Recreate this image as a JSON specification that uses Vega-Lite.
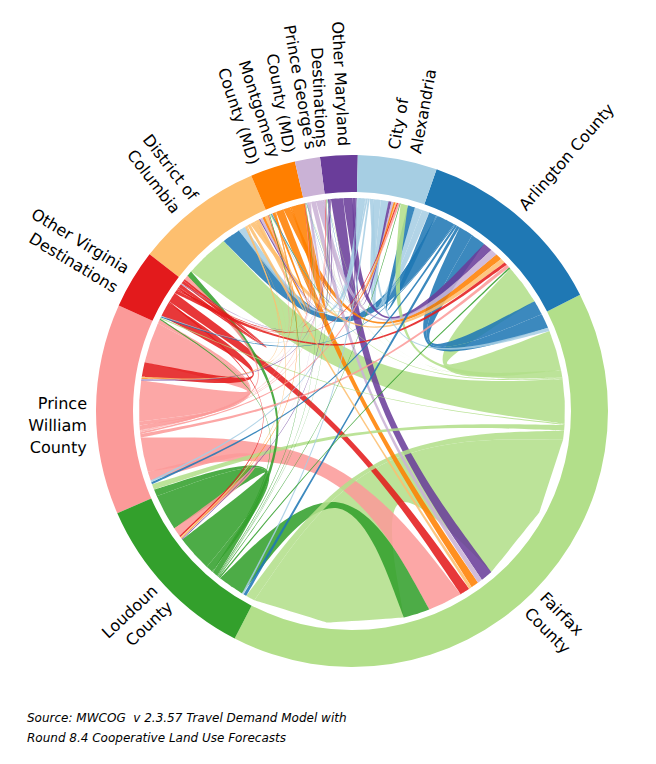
{
  "$schema": "https://vega.github.io/schema/vega-lite/v6.json",
  "width": 540,
  "height": 540,
  "autosize": {"type": "none"},
  "padding": {"left": 82, "top": 141, "right": 34, "bottom": 83},
  "background": "white",
  "config": {"view": {"stroke": null}},
  "title": {
    "text": ["Source: MWCOG\u00a0 v 2.3.57 Travel Demand Model with", "Round 8.4 Cooperative Land Use Forecasts"],
    "orient": "bottom",
    "anchor": "start",
    "frame": "group",
    "font": "DejaVu Sans",
    "fontSize": 12,
    "fontStyle": "italic",
    "fontWeight": "normal",
    "color": "black",
    "lineHeight": 20,
    "dx": -55,
    "offset": 32
  },
  "data": {
    "values": [
      {"o": "FX", "d": "FX", "v": 414},
      {"o": "FX", "d": "DC", "v": 120},
      {"o": "FX", "d": "AR", "v": 110},
      {"o": "PW", "d": "PW", "v": 111},
      {"o": "LO", "d": "LO", "v": 99},
      {"o": "PW", "d": "FX", "v": 94},
      {"o": "LO", "d": "FX", "v": 72},
      {"o": "AR", "d": "DC", "v": 50},
      {"o": "AR", "d": "AR", "v": 40},
      {"o": "AR", "d": "FX", "v": 40},
      {"o": "OV", "d": "PW", "v": 40},
      {"o": "OM", "d": "FX", "v": 33},
      {"o": "OV", "d": "FX", "v": 27},
      {"o": "FX", "d": "LO", "v": 25},
      {"o": "PW", "d": "LO", "v": 25},
      {"o": "OM", "d": "AR", "v": 25},
      {"o": "AX", "d": "AX", "v": 21},
      {"o": "MO", "d": "FX", "v": 21},
      {"o": "AX", "d": "AR", "v": 20},
      {"o": "AR", "d": "AX", "v": 20},
      {"o": "FX", "d": "AX", "v": 20},
      {"o": "AX", "d": "DC", "v": 19},
      {"o": "LO", "d": "PW", "v": 19},
      {"o": "MO", "d": "AR", "v": 18},
      {"o": "PG", "d": "AR", "v": 18},
      {"o": "MO", "d": "MO", "v": 18},
      {"o": "FX", "d": "PW", "v": 15},
      {"o": "LO", "d": "DC", "v": 15},
      {"o": "PG", "d": "FX", "v": 13},
      {"o": "DC", "d": "AR", "v": 13},
      {"o": "PW", "d": "DC", "v": 12},
      {"o": "PW", "d": "OV", "v": 11},
      {"o": "AX", "d": "FX", "v": 10},
      {"o": "DC", "d": "DC", "v": 10},
      {"o": "OV", "d": "OV", "v": 9},
      {"o": "PW", "d": "AR", "v": 9},
      {"o": "OV", "d": "AR", "v": 9},
      {"o": "AR", "d": "LO", "v": 8},
      {"o": "OM", "d": "AX", "v": 8},
      {"o": "DC", "d": "FX", "v": 8},
      {"o": "MO", "d": "DC", "v": 7},
      {"o": "PG", "d": "DC", "v": 7},
      {"o": "AR", "d": "PW", "v": 6},
      {"o": "PG", "d": "AX", "v": 6},
      {"o": "AX", "d": "LO", "v": 5},
      {"o": "AX", "d": "PW", "v": 5},
      {"o": "PW", "d": "AX", "v": 5},
      {"o": "OV", "d": "DC", "v": 5},
      {"o": "MO", "d": "AX", "v": 5},
      {"o": "LO", "d": "AR", "v": 4},
      {"o": "OV", "d": "LO", "v": 4},
      {"o": "DC", "d": "AX", "v": 4},
      {"o": "DC", "d": "PW", "v": 4},
      {"o": "AR", "d": "OV", "v": 3},
      {"o": "FX", "d": "OV", "v": 3},
      {"o": "FX", "d": "MO", "v": 3},
      {"o": "LO", "d": "OV", "v": 3},
      {"o": "OV", "d": "AX", "v": 3},
      {"o": "DC", "d": "LO", "v": 3},
      {"o": "OM", "d": "DC", "v": 3},
      {"o": "AX", "d": "OV", "v": 2},
      {"o": "AX", "d": "MO", "v": 2},
      {"o": "AR", "d": "MO", "v": 2},
      {"o": "LO", "d": "AX", "v": 2},
      {"o": "LO", "d": "MO", "v": 2},
      {"o": "PW", "d": "MO", "v": 2},
      {"o": "PW", "d": "PG", "v": 2},
      {"o": "PW", "d": "OM", "v": 2},
      {"o": "MO", "d": "LO", "v": 2},
      {"o": "MO", "d": "PW", "v": 2},
      {"o": "PG", "d": "PW", "v": 2},
      {"o": "OM", "d": "LO", "v": 2},
      {"o": "OM", "d": "PW", "v": 2},
      {"o": "OM", "d": "OM", "v": 2},
      {"o": "AX", "d": "PG", "v": 1},
      {"o": "AX", "d": "OM", "v": 1},
      {"o": "AR", "d": "PG", "v": 1},
      {"o": "AR", "d": "OM", "v": 1},
      {"o": "FX", "d": "PG", "v": 1},
      {"o": "FX", "d": "OM", "v": 1},
      {"o": "LO", "d": "PG", "v": 1},
      {"o": "LO", "d": "OM", "v": 1},
      {"o": "OV", "d": "MO", "v": 1},
      {"o": "OV", "d": "PG", "v": 1},
      {"o": "OV", "d": "OM", "v": 1},
      {"o": "DC", "d": "OV", "v": 1},
      {"o": "PG", "d": "LO", "v": 1},
      {"o": "PG", "d": "OV", "v": 1},
      {"o": "PG", "d": "PG", "v": 1},
      {"o": "OM", "d": "OV", "v": 1}
    ]
  },
  "transform": [
    {"calculate": "indexof(['AX','AR','FX','LO','PW','OV','DC','MO','PG','OM'], datum.o)", "as": "co"},
    {"calculate": "indexof(['AX','AR','FX','LO','PW','OV','DC','MO','PG','OM'], datum.d)", "as": "cd"},
    {"calculate": "datum.o + '>' + datum.d", "as": "id"},
    {"calculate": "['out','in']", "as": "end"},
    {"flatten": ["end"]},
    {"calculate": "datum.end == 'out' ? datum.co : datum.cd", "as": "r"},
    {"calculate": "datum.end == 'out' ? datum.cd : datum.co", "as": "p"},
    {"calculate": "datum.end == 'out' ? datum.o : datum.d", "as": "region"},
    {"calculate": "datum.r == datum.p ? 10 : (datum.r - datum.p + 10) % 10", "as": "dist"},
    {"calculate": "datum.end == 'in' ? datum.dist : datum.r + 0.5 + datum.dist / 25", "as": "key"},
    {"window": [{"op": "sum", "field": "v", "as": "cum"}], "sort": [{"field": "r"}, {"field": "key"}], "frame": [null, 0]},
    {"joinaggregate": [{"op": "sum", "field": "v", "as": "tot"}]},
    {"calculate": "0.02269 + 2 * PI * (datum.cum - datum.v) / datum.tot", "as": "a0"},
    {"calculate": "0.02269 + 2 * PI * datum.cum / datum.tot", "as": "a1"}
  ],
  "layer": [
    {
      "transform": [
        {"aggregate": [{"op": "min", "field": "a0", "as": "t0"}, {"op": "max", "field": "a1", "as": "t1"}], "groupby": ["region"]}
      ],
      "mark": {"type": "arc", "radius": 256, "radius2": 219},
      "encoding": {
        "theta": {"field": "t0", "type": "quantitative", "stack": null, "scale": {"domain": [0, 6.283185307], "range": [0, 6.283185307]}},
        "theta2": {"field": "t1"},
        "color": {
          "field": "region", "type": "nominal", "legend": null,
          "scale": {
            "domain": ["AX", "AR", "FX", "LO", "PW", "OV", "DC", "MO", "PG", "OM"],
            "range": ["#a6cee3", "#1f78b4", "#b2df8a", "#33a02c", "#fb9a99", "#e31a1c", "#fdbf6f", "#ff7f00", "#cab2d6", "#6a3d9a"]
          }
        }
      }
    },
    {
      "transform": [
        {"calculate": "datum.end == 'out' ? datum.a0 : -99", "as": "sa0"},
        {"calculate": "datum.end == 'out' ? datum.a1 : -99", "as": "sa1"},
        {"calculate": "datum.end == 'in' ? datum.a0 : -99", "as": "ta0"},
        {"calculate": "datum.end == 'in' ? datum.a1 : -99", "as": "ta1"},
        {"joinaggregate": [
          {"op": "max", "field": "sa0", "as": "A0"},
          {"op": "max", "field": "sa1", "as": "A1"},
          {"op": "max", "field": "ta0", "as": "B0"},
          {"op": "max", "field": "ta1", "as": "B1"}
        ], "groupby": ["id"]},
        {"filter": "datum.end == 'out'"},
        {"calculate": "213 * sin(datum.A0)", "as": "xa0"},
        {"calculate": "213 * cos(datum.A0)", "as": "ya0"},
        {"calculate": "213 * sin((datum.A0 + datum.A1) / 2)", "as": "xam"},
        {"calculate": "213 * cos((datum.A0 + datum.A1) / 2)", "as": "yam"},
        {"calculate": "213 * sin(datum.A1)", "as": "xa1"},
        {"calculate": "213 * cos(datum.A1)", "as": "ya1"},
        {"calculate": "213 * sin(datum.B0)", "as": "xb0"},
        {"calculate": "213 * cos(datum.B0)", "as": "yb0"},
        {"calculate": "213 * sin((datum.B0 + datum.B1) / 2)", "as": "xbm"},
        {"calculate": "213 * cos((datum.B0 + datum.B1) / 2)", "as": "ybm"},
        {"calculate": "213 * sin(datum.B1)", "as": "xb1"},
        {"calculate": "213 * cos(datum.B1)", "as": "yb1"},
        {"calculate": "[datum.xa0, datum.xa0, datum.xa0, datum.xam, datum.xam, datum.xam, datum.xa1, datum.xa1, datum.xa1, (datum.xa1 + datum.xb0) / 8, datum.xb0, datum.xb0, datum.xb0, datum.xbm, datum.xbm, datum.xbm, datum.xb1, datum.xb1, datum.xb1, (datum.xb1 + datum.xa0) / 8, datum.xa0, datum.xa0, datum.xa0]", "as": "px"},
        {"calculate": "[datum.ya0, datum.ya0, datum.ya0, datum.yam, datum.yam, datum.yam, datum.ya1, datum.ya1, datum.ya1, (datum.ya1 + datum.yb0) / 8, datum.yb0, datum.yb0, datum.yb0, datum.ybm, datum.ybm, datum.ybm, datum.yb1, datum.yb1, datum.yb1, (datum.yb1 + datum.ya0) / 8, datum.ya0, datum.ya0, datum.ya0]", "as": "py"},
        {"calculate": "[0, 1, 2, 3, 4, 5, 6, 7, 8, 9, 10, 11, 12, 13, 14, 15, 16, 17, 18, 19, 20, 21, 22]", "as": "k"},
        {"flatten": ["px", "py", "k"]}
      ],
      "mark": {"type": "line", "filled": true, "interpolate": "basis", "fillOpacity": 0.87},
      "encoding": {
        "x": {"field": "px", "type": "quantitative", "axis": null, "scale": {"domain": [-270, 270]}},
        "y": {"field": "py", "type": "quantitative", "axis": null, "scale": {"domain": [-270, 270]}},
        "order": {"field": "k", "type": "quantitative"},
        "detail": {"field": "id"},
        "color": {"field": "region", "type": "nominal", "legend": null}
      }
    },
    {
      "transform": [
        {"aggregate": [{"op": "min", "field": "a0", "as": "t0"}, {"op": "max", "field": "a1", "as": "t1"}], "groupby": ["region"]},
        {"calculate": "(datum.t0 + datum.t1) / 2", "as": "mid"},
        {"calculate": "datum.mid * 180 / PI", "as": "deg"},
        {"filter": "datum.deg < 180"},
        {"calculate": "265 * sin(datum.mid)", "as": "lx"},
        {"calculate": "265 * cos(datum.mid)", "as": "ly"},
        {"calculate": "datum.deg - 90", "as": "rot"},
        {"lookup": "region", "from": {"data": {"values": [
          {"code": "AX", "label": ["City of", "Alexandria"]},
          {"code": "AR", "label": ["Arlington County"]},
          {"code": "FX", "label": ["Fairfax", "County"]},
          {"code": "LO", "label": ["Loudoun", "County"]},
          {"code": "PW", "label": ["Prince", "William", "County"]},
          {"code": "OV", "label": ["Other Virginia", "Destinations"]},
          {"code": "DC", "label": ["District of", "Columbia"]},
          {"code": "MO", "label": ["Montgomery", "County (MD)"]},
          {"code": "PG", "label": ["Prince George’s", "County (MD)"]},
          {"code": "OM", "label": ["Other Maryland", "Destinations"]}
        ]}, "key": "code", "fields": ["label"]}}
      ],
      "mark": {"type": "text", "align": "left", "baseline": "alphabetic", "font": "DejaVu Sans", "fontSize": 16, "lineHeight": 22, "color": "black"},
      "encoding": {
        "x": {"field": "lx", "type": "quantitative", "axis": null, "scale": {"domain": [-270, 270]}},
        "y": {"field": "ly", "type": "quantitative", "axis": null, "scale": {"domain": [-270, 270]}},
        "angle": {"field": "rot", "type": "quantitative", "scale": null},
        "text": {"field": "label"}
      }
    },
    {
      "transform": [
        {"aggregate": [{"op": "min", "field": "a0", "as": "t0"}, {"op": "max", "field": "a1", "as": "t1"}], "groupby": ["region"]},
        {"calculate": "(datum.t0 + datum.t1) / 2", "as": "mid"},
        {"calculate": "datum.mid * 180 / PI", "as": "deg"},
        {"filter": "datum.deg >= 180"},
        {"calculate": "265 * sin(datum.mid)", "as": "lx"},
        {"calculate": "265 * cos(datum.mid)", "as": "ly"},
        {"calculate": "datum.deg + 90", "as": "rot"},
        {"lookup": "region", "from": {"data": {"values": [
          {"code": "AX", "label": ["City of", "Alexandria"]},
          {"code": "AR", "label": ["Arlington County"]},
          {"code": "FX", "label": ["Fairfax", "County"]},
          {"code": "LO", "label": ["Loudoun", "County"]},
          {"code": "PW", "label": ["Prince", "William", "County"]},
          {"code": "OV", "label": ["Other Virginia", "Destinations"]},
          {"code": "DC", "label": ["District of", "Columbia"]},
          {"code": "MO", "label": ["Montgomery", "County (MD)"]},
          {"code": "PG", "label": ["Prince George’s", "County (MD)"]},
          {"code": "OM", "label": ["Other Maryland", "Destinations"]}
        ]}, "key": "code", "fields": ["label"]}}
      ],
      "mark": {"type": "text", "align": "right", "baseline": "alphabetic", "font": "DejaVu Sans", "fontSize": 16, "lineHeight": 22, "color": "black"},
      "encoding": {
        "x": {"field": "lx", "type": "quantitative", "axis": null, "scale": {"domain": [-270, 270]}},
        "y": {"field": "ly", "type": "quantitative", "axis": null, "scale": {"domain": [-270, 270]}},
        "angle": {"field": "rot", "type": "quantitative", "scale": null},
        "text": {"field": "label"}
      }
    }
  ]
}
